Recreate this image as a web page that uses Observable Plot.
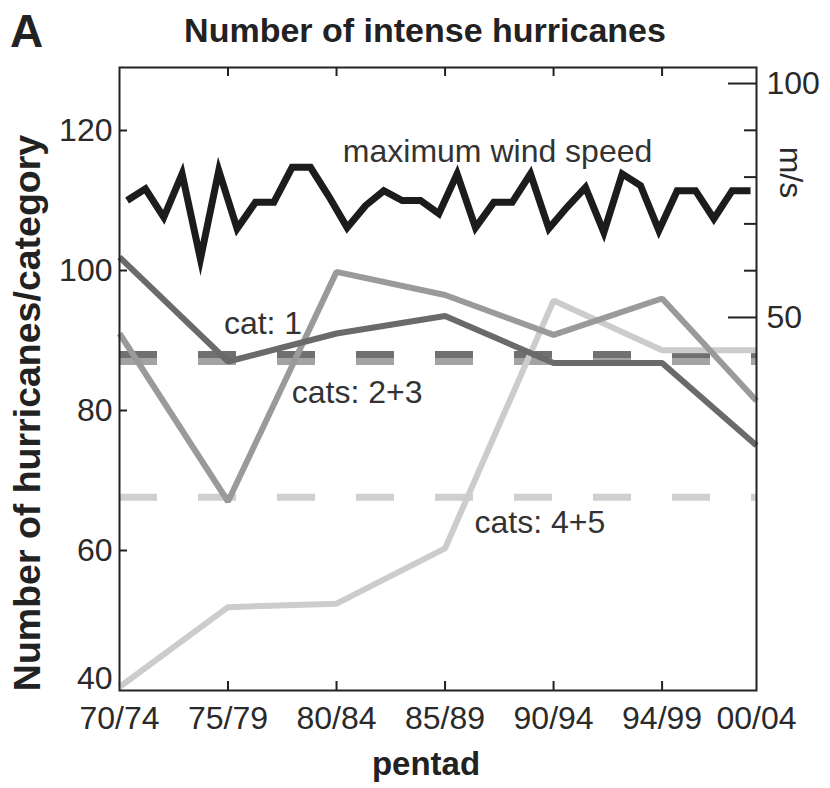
<!DOCTYPE html>
<html><head><meta charset="utf-8">
<script src="https://cdn.jsdelivr.net/npm/d3@7"></script>
<script src="https://cdn.jsdelivr.net/npm/@observablehq/plot@0.6"></script>
<style>
body{margin:0;background:#fff;font-family:"Liberation Sans",Arial,sans-serif;}
#wrap{position:relative;width:830px;height:788px;overflow:hidden;}
#hdr{position:relative;height:60px;}
#panel{position:absolute;left:10px;top:8px;font-size:46px;font-weight:bold;line-height:46px;color:#222;}
#title{position:absolute;left:425px;top:13px;transform:translateX(-50%);font-size:34px;font-weight:bold;line-height:34px;white-space:nowrap;color:#222;}
</style></head><body>
<div id="wrap"><div id="hdr"><div id="panel">A</div><div id="title">Number of intense hurricanes</div></div><div id="chart"></div></div>
<script>
// ---- data ----
const pentadLabels = ["70/74","75/79","80/84","85/89","90/94","94/99","00/04"];
const pentadPos = [0, 1, 2, 3, 4, 5, 5.87];
const cat1 = [101.9, 87.0, 91.0, 93.5, 86.8, 86.8, 75.0];
const cat23 = [91.0, 67.0, 99.8, 96.5, 90.8, 96.0, 81.4];
const cat45 = [40.5, 51.9, 52.4, 60.3, 95.7, 88.6, 88.6];
const cat1Mean = 88.0;
const cat23Mean = 87.0;
const cat45Mean = 67.6;
const windYears = d3.range(1970, 2005);
const windSpeed = [75.0, 77.5, 71.4, 80.7, 62.5, 81.4, 69.0, 74.6, 74.6, 82.1,
                   82.1, 75.9, 69.2, 73.9, 77.1, 75.0, 75.0, 72.2, 80.7, 69.2,
                   74.6, 74.6, 80.7, 69.0, 73.6, 77.8, 68.2, 80.7, 78.2, 68.6,
                   77.1, 77.1, 71.1, 77.1, 77.1];
const leftTicks = [60, 80, 100, 120];
const bottomLabelTick = [40];
const windMajor = [50, 100];
const windMinor = [60, 70, 80, 90];
const annText = ["maximum wind speed", "cat: 1", "cats: 2+3", "cats: 4+5"];
const annX = [3.484, 0.962, 1.587, 3.272];
const annY = [117.0, 92.4, 82.6, 63.9];
const annAnchor = ["middle", "start", "start", "start"];

// ---- layout ----
const W = 830, H = 728;
const mL = 119, mR = 74, mT = 7, mB = 98;
const innerW = W - mL - mR, innerH = H - mT - mB;

// secondary axis mappings (m/s -> left units, year -> pentad units)
const windY = d3.scaleLinear([50, 100], [93.29, 126.71]);
const windX = d3.scaleLinear([1970, 2004], [0.07, 5.815]);

const pentadRows = pentadLabels.map((p, i) => ({pos: pentadPos[i], cat1: cat1[i], cat23: cat23[i], cat45: cat45[i]}));
const windRows = windYears.map((yr, i) => ({x: windX(yr), y: windY(windSpeed[i])}));
const annRows = annText.map((t, i) => ({t, x: annX[i], y: annY[i], a: annAnchor[i]}));
const innerPentads = pentadPos.slice(1, -1);

const dash = "38,41";
const chart = Plot.plot({
  width: W, height: H,
  marginLeft: mL, marginRight: mR, marginTop: mT, marginBottom: mB,
  style: {fontFamily: "'Liberation Sans', Arial, sans-serif", fontSize: "32px", color: "#2a2a2a", background: "#fff", overflow: "visible"},
  x: {type: "linear", domain: [0, 5.87], axis: null},
  y: {domain: [40, 129], axis: null},
  marks: [
    Plot.ruleY([cat45Mean], {stroke: "#cfcfcf", strokeWidth: 7, strokeDasharray: dash}),
    Plot.ruleY([cat23Mean], {stroke: "#a3a3a3", strokeWidth: 7, strokeDasharray: dash}),
    Plot.ruleY([cat1Mean], {stroke: "#707070", strokeWidth: 7, strokeDasharray: dash}),
    Plot.line(pentadRows, {x: "pos", y: "cat45", stroke: "#cccccc", strokeWidth: 6, strokeLinejoin: "miter", strokeLinecap: "butt"}),
    Plot.line(pentadRows, {x: "pos", y: "cat23", stroke: "#9a9a9a", strokeWidth: 6, strokeLinejoin: "miter", strokeLinecap: "butt"}),
    Plot.line(pentadRows, {x: "pos", y: "cat1", stroke: "#6a6a6a", strokeWidth: 6, strokeLinejoin: "miter", strokeLinecap: "butt"}),
    Plot.line(windRows, {x: "x", y: "y", stroke: "#1c1c1c", strokeWidth: 7, strokeLinejoin: "miter", strokeMiterlimit: 6, strokeLinecap: "butt"}),
    Plot.frame({stroke: "#222", strokeWidth: 2}),
    // inward ticks
    Plot.tickY(leftTicks, {y: d => d, insetRight: innerW - 8, stroke: "#222", strokeWidth: 2}),
    Plot.tickX(innerPentads, {x: d => d, insetBottom: innerH - 9, stroke: "#222", strokeWidth: 2}),
    Plot.tickX(innerPentads, {x: d => d, insetTop: innerH - 9, stroke: "#222", strokeWidth: 2}),
    Plot.tickY(windMajor, {y: d => windY(d), insetLeft: innerW - 28, stroke: "#222", strokeWidth: 2}),
    Plot.tickY(windMinor, {y: d => windY(d), insetLeft: innerW - 12, stroke: "#222", strokeWidth: 2}),
    // axis labels
    Plot.axisY(leftTicks, {anchor: "left", tickSize: 0, tickPadding: 7, label: null, fill: "#2a2a2a"}),
    Plot.axisY(bottomLabelTick, {anchor: "left", tickSize: 0, tickPadding: 7, dy: -12, label: null, fill: "#2a2a2a"}),
    Plot.axisY(windMajor.map(windY), {anchor: "right", tickSize: 0, tickPadding: 10, label: null, tickFormat: d => String(Math.round(windY.invert(d))), fill: "#2a2a2a"}),
    Plot.axisX(pentadPos, {anchor: "bottom", tickSize: 0, tickPadding: 16, label: null, tickFormat: d => pentadLabels[pentadPos.indexOf(d)], fill: "#2a2a2a"}),
    Plot.text(["Number of hurricanes/category"], {frameAnchor: "left", textAnchor: "middle", lineAnchor: "middle", dx: -92, dy: 34, rotate: -90, fontWeight: "bold", fontSize: 37.5, fill: "#222"}),
    Plot.text(["pentad"], {frameAnchor: "bottom", textAnchor: "middle", dx: -12, dy: 84, fontWeight: "bold", fontSize: 33, fill: "#222"}),
    Plot.text([{t: "m/s", y: windY(81)}], {y: "y", text: "t", frameAnchor: "right", textAnchor: "middle", lineAnchor: "middle", dx: 34, rotate: 90, fill: "#2a2a2a"}),
    // annotations
    Plot.text(annRows.filter(d => d.a === "middle"), {x: "x", y: "y", text: "t", textAnchor: "middle", fill: "#333"}),
    Plot.text(annRows.filter(d => d.a === "start"), {x: "x", y: "y", text: "t", textAnchor: "start", fill: "#333"})
  ]
});
document.getElementById("chart").appendChild(chart);
</script>
</body></html>
